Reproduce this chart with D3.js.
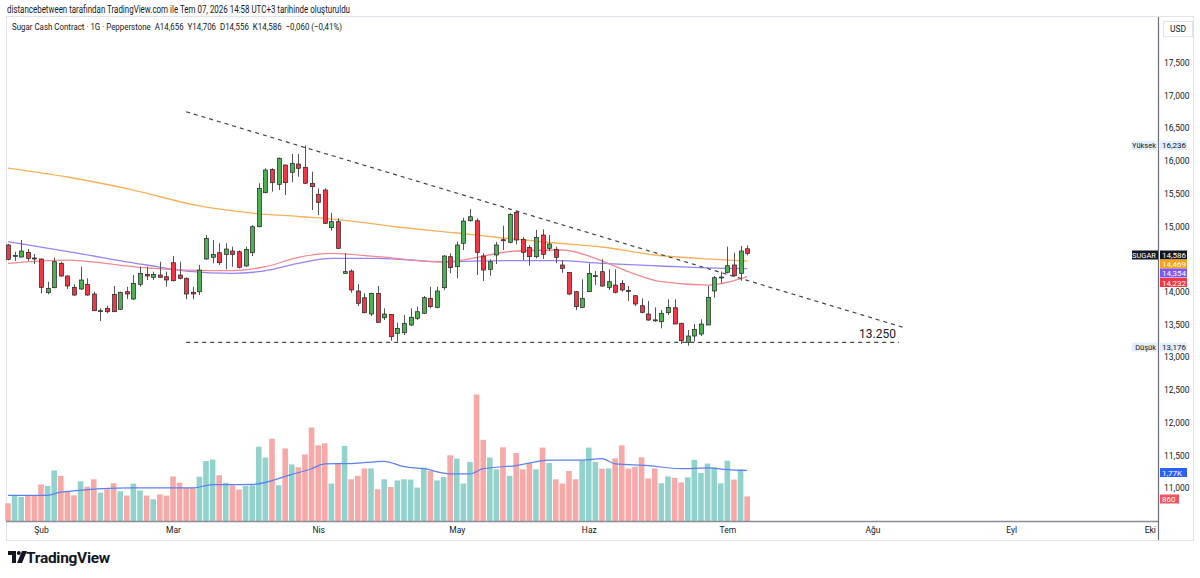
<!DOCTYPE html>
<html>
<head>
<meta charset="utf-8">
<script src="https://cdn.jsdelivr.net/npm/d3@7"></script>
<style>
  body { margin: 0; background: #fff; }
  svg text { font-family: Roboto, "Noto Sans", sans-serif; fill: #131722; }
</style>
</head>
<body>
<svg width="1200" height="578"></svg>
<script>
// daily candles, Jan 26 -> Jul 7
var opens = [14714,14545,14530,14602,14515,14500,13985,14061,14434,14240,
  14067,14041,14113,13965,13700,13746,13960,13731,14000,13888,
  14113,14266,14220,14255,14229,14443,14255,14205,13991,14000,
  14500,14526,14596,14571,14622,14611,14393,14596,14993,15513,
  15870,15641,15936,15825,15951,15901,15657,15488,15554,14978,
  15070,14281,14316,14011,13908,13659,13975,13602,13654,13364,
  13373,13491,13593,13670,13899,13761,14061,14535,14382,14740,
  15085,15085,14545,14342,14561,14795,14755,15213,14801,14678,
  14535,14866,14663,14648,14408,14296,14000,13761,14000,14235,
  14306,14067,14102,14128,14020,13939,13786,13659,13570,13541,
  13679,13755,13517,13227,13323,13353,13491,14011,14215,14296,
  14408,14281,14656];
var highs = [14730,14611,14790,14652,14576,14507,14153,14519,14458,14247,
  14113,14382,14205,14000,13746,13781,14087,14000,14076,14255,
  14382,14382,14306,14458,14306,14545,14458,14217,14076,14408,
  14866,14790,14740,14740,14688,14630,14688,15019,15657,15886,
  15886,16051,15944,16104,16104,16236,15834,15580,15580,15207,
  15122,14587,14342,14113,13975,13985,14087,13746,13659,13526,
  13644,13746,13771,13934,14076,14076,14561,14587,14764,15131,
  15264,15122,14587,14495,14764,15009,15198,15233,14840,14714,
  14943,14953,14866,14688,14484,14301,14011,14189,14434,14316,
  14495,14342,14342,14179,14087,13949,13899,13858,13761,13720,
  13884,13884,13526,13415,13506,13578,14087,14240,14306,14688,
  14596,14698,14706];
var lows = [14480,14469,14522,14469,14423,13975,13960,14052,14229,14041,
  13939,14026,13939,13705,13552,13670,13690,13720,13888,13873,
  14076,14179,14179,14209,14076,14159,14189,13884,13884,13949,
  14484,14434,14408,14342,14382,14357,14382,14545,14984,15503,
  15528,15554,15478,15672,15757,15646,15248,15172,15034,14932,
  14652,14278,13985,13781,13670,13628,13526,13567,13250,13236,
  13338,13476,13567,13659,13746,13746,14026,14281,14205,14637,
  15070,14255,14163,14244,14423,14637,14740,14724,14484,14397,
  14510,14500,14622,14434,14290,13949,13720,13758,13995,14102,
  14076,14026,13975,14000,13858,13781,13670,13557,13541,13440,
  13644,13506,13200,13176,13236,13323,13491,13908,14128,14281,
  14229,14168,14556];
var closes = [14495,14555,14622,14510,14500,14067,14052,14458,14240,14087,
  13949,14179,13949,13709,13710,13694,13694,13991,13965,14128,
  14281,14240,14266,14220,14179,14168,14205,13965,13965,14331,
  14816,14571,14443,14652,14571,14373,14648,14993,15580,15860,
  15666,16039,15666,15962,15886,15657,15605,15366,15045,15070,
  14663,14306,14026,13823,13679,13975,13532,13659,13312,13440,
  13517,13609,13694,13908,13771,14011,14545,14367,14714,15080,
  15146,14602,14331,14458,14714,14785,15183,14790,14602,14535,
  14831,14571,14729,14526,14357,13965,13771,13899,14281,14245,
  14087,14153,13991,14026,14010,13812,13685,13567,13562,13670,
  13761,13506,13251,13323,13425,13506,13914,14214,14225,14397,
  14244,14622,14586];
var volumes = [620,880,840,880,900,1280,1230,1770,1580,1030,
  900,1390,1200,1460,990,1110,1320,1040,890,1310,
  1070,890,760,930,890,1560,1340,1170,1160,1550,
  2100,2150,1600,1340,1250,1100,1230,1250,2600,2220,
  2880,1250,2540,1980,1880,2330,3270,2650,2720,1310,
  2020,2630,1460,1580,1840,1840,1110,1460,1190,1420,
  1460,1450,1170,1870,1750,1420,1540,2300,2180,1310,
  2070,4430,2840,2220,1810,2580,1580,2380,1810,2020,
  1810,2570,2030,1460,1310,1750,1460,2120,2570,2070,
  1830,1840,2190,2650,1830,1900,2230,1490,1840,1320,
  1560,1510,1350,1530,2140,1680,2010,1870,1320,2110,
  1450,1810,860];

// moving averages read at a few bars
var orangeIdx = [0,9,19,29,37,44,50,59,68,75,83,90,98,105,112];
var orangeVal = [15890,15753,15554,15310,15200,15149,15103,14989,14897,14821,14744,14683,14561,14507,14469];
var purpleIdx = [0,10,21,27,34,38,44,49,56,66,75,83,90,99,107,112];
var purpleVal = [14764,14597,14408,14316,14281,14306,14434,14510,14510,14458,14474,14474,14434,14393,14360,14354];
var redIdx = [0,9,19,27,34,39,44,49,56,66,77,84,89,94,99,106,112];
var redVal = [14434,14484,14382,14331,14321,14382,14526,14587,14535,14454,14622,14637,14510,14306,14153,14102,14232];
var volMaIdx = [0,6,8,19,28,31,37,43,46,48,52,57,60,63,67,70,72,77,82,87,90,92,97,102,106,109,112];
var volMaVal = [900,900,1010,1160,1160,1270,1280,1630,1830,2000,2010,2090,1900,1830,1650,1650,1830,1940,2130,2130,2180,2000,1940,1830,1860,1800,1770];

// drawings
var trendIdx = [27, 136];
var trendVal = [16750, 13445];
var supportIdx = [27, 135];
var supportVal = 13250;

var priceTicks = [11000,11500,12000,12500,13000,13500,14000,15000,15500,16000,16500,17000,17500];
var tickIdx = [5, 25, 47, 68, 88, 109, 131, 152, 173];
var tickLabels = ['Şub', 'Mar', 'Nis', 'May', 'Haz', 'Tem', 'Ağu', 'Eyl', 'Eki'];

var upColor = '#4caf50', downColor = '#f23645';

var svg = d3.select('svg');
var plotTop = 17, plotBottom = 521, plotRight = 1158;

var x = d3.scaleLinear().domain([0, 174.1]).range([8, 1157]);
var y = d3.scaleLinear().domain([10496, 18198]).range([plotBottom, plotTop]);
var yVol = d3.scaleLinear().domain([0, 17640]).range([plotBottom, plotTop]);

var candles = opens.map(function(o, i) {
  return {i: i, o: o, h: highs[i], l: lows[i], c: closes[i], v: volumes[i]};
});

// frame
svg.append('rect')
  .attr('x', 6.5).attr('y', 16.5)
  .attr('width', 1187).attr('height', 524)
  .attr('fill', 'none').attr('stroke', '#e0e3eb');

svg.append('text')
  .attr('x', 7).attr('y', 13)
  .style('font-size', '10px')
  .attr('textLength', 343)
  .attr('lengthAdjust', 'spacingAndGlyphs')
  .text('distancebetween tarafından TradingView.com ile Tem 07, 2026 14:58 UTC+3 tarihinde oluşturuldu');

svg.append('text')
  .attr('x', 12).attr('y', 30)
  .style('font-size', '9.5px')
  .attr('xml:space', 'preserve')
  .attr('textLength', 330)
  .attr('lengthAdjust', 'spacingAndGlyphs')
  .text('Sugar Cash Contract · 1G · Pepperstone  A14,656  Y14,706  D14,556  K14,586  −0,060 (−0,41%)');

var chartG = svg.append('g');

// volume
chartG.selectAll('rect.vol')
  .data(candles)
  .enter()
  .append('rect')
  .attr('class', 'vol')
  .attr('x', function(d) { return x(d.i) - 2.8; })
  .attr('width', 5.6)
  .attr('y', function(d) { return yVol(d.v); })
  .attr('height', function(d) { return plotBottom - yVol(d.v); })
  .attr('fill', function(d) { return d.c >= d.o ? '#92d2cc' : '#f7a9a8'; });

var volLine = d3.line()
  .x(function(d) { return x(d[0]); })
  .y(function(d) { return yVol(d[1]); })
  .curve(d3.curveMonotoneX);

chartG.append('path')
  .datum(d3.zip(volMaIdx, volMaVal))
  .attr('d', volLine)
  .attr('fill', 'none')
  .attr('stroke', '#5c7ff0')
  .attr('stroke-width', 1.2);

// moving averages
var maLine = d3.line()
  .x(function(d) { return x(d[0]); })
  .y(function(d) { return y(d[1]); })
  .curve(d3.curveMonotoneX);

[[orangeIdx, orangeVal, '#f8b15a'], [purpleIdx, purpleVal, '#9a82f5'], [redIdx, redVal, '#f08a90']]
  .forEach(function(s) {
    chartG.append('path')
      .datum(d3.zip(s[0], s[1]))
      .attr('d', maLine)
      .attr('fill', 'none')
      .attr('stroke', s[2])
      .attr('stroke-width', 1.3);
  });

// candles
chartG.selectAll('line.wick')
  .data(candles)
  .enter()
  .append('line')
  .attr('class', 'wick')
  .attr('x1', function(d) { return Math.round(x(d.i)) + 0.5; })
  .attr('x2', function(d) { return Math.round(x(d.i)) + 0.5; })
  .attr('y1', function(d) { return y(d.h); })
  .attr('y2', function(d) { return y(d.l); })
  .attr('stroke', '#555')
  .attr('stroke-width', 1);

chartG.selectAll('rect.body')
  .data(candles)
  .enter()
  .append('rect')
  .attr('class', 'body')
  .attr('x', function(d) { return Math.round(x(d.i)) - 1.5; })
  .attr('width', 4)
  .attr('y', function(d) { return y(Math.max(d.o, d.c)); })
  .attr('height', function(d) { return Math.max(1, Math.abs(y(d.o) - y(d.c))); })
  .attr('fill', function(d) { return d.c >= d.o ? upColor : downColor; })
  .attr('stroke', '#222')
  .attr('stroke-width', 0.7);

// trend line and support
chartG.append('line')
  .attr('x1', x(trendIdx[0])).attr('y1', y(trendVal[0]))
  .attr('x2', x(trendIdx[1])).attr('y2', y(trendVal[1]))
  .attr('stroke', '#444').attr('stroke-width', 1.2)
  .attr('stroke-dasharray', '4,4');

chartG.append('line')
  .attr('x1', x(supportIdx[0])).attr('y1', y(supportVal) + 1.5)
  .attr('x2', x(supportIdx[1])).attr('y2', y(supportVal) + 1.5)
  .attr('stroke', '#444').attr('stroke-width', 1.2)
  .attr('stroke-dasharray', '4,4');

chartG.append('text')
  .attr('x', x(supportIdx[1]) - 3)
  .attr('y', y(supportVal) - 3)
  .attr('text-anchor', 'end')
  .style('font-size', '12px')
  .text('13.250');

// axes
svg.append('line')
  .attr('x1', 6).attr('x2', plotRight)
  .attr('y1', plotBottom + 0.5).attr('y2', plotBottom + 0.5)
  .attr('stroke', '#8a8d96').attr('stroke-width', 1.5);
svg.append('line')
  .attr('x1', plotRight + 0.5).attr('x2', plotRight + 0.5)
  .attr('y1', plotTop).attr('y2', 540)
  .attr('stroke', '#6a6d78').attr('stroke-width', 1.2);

var yAxis = d3.axisRight(y)
  .tickValues(priceTicks)
  .tickSize(0)
  .tickPadding(6)
  .tickFormat(d3.format(','));

var yAxisG = svg.append('g')
  .attr('class', 'y-axis')
  .attr('transform', 'translate(' + plotRight + ',0)')
  .call(yAxis);
yAxisG.select('.domain').remove();
yAxisG.selectAll('text').style('font-size', '8.5px').attr('fill', '#131722');

var xAxis = d3.axisBottom(x)
  .tickValues(tickIdx)
  .tickSize(0)
  .tickPadding(6)
  .tickFormat(function(d, i) { return tickLabels[i]; });

var xAxisG = svg.append('g')
  .attr('class', 'x-axis')
  .attr('transform', 'translate(0,' + plotBottom + ')')
  .call(xAxis);
xAxisG.select('.domain').remove();
xAxisG.selectAll('text').style('font-size', '8.5px').attr('fill', '#131722');

// USD box
svg.append('rect')
  .attr('x', 1163.5).attr('y', 21.5).attr('width', 29).attr('height', 15)
  .attr('fill', '#fff').attr('stroke', '#e0e3eb');
svg.append('text')
  .attr('x', 1178).attr('y', 32)
  .attr('text-anchor', 'middle')
  .style('font-size', '8.5px')
  .text('USD');

// price labels on the axis
function axisLabel(cy, txt, bg, fg, w) {
  svg.append('rect')
    .attr('x', plotRight + 2).attr('y', cy - 4.5)
    .attr('width', w || 27).attr('height', 9)
    .attr('fill', bg);
  svg.append('text')
    .attr('x', plotRight + 4).attr('y', cy + 3)
    .style('font-size', '8px')
    .style('fill', fg)
    .text(txt);
}
function sideTag(cy, txt, bg, fg) {
  svg.append('rect')
    .attr('x', plotRight - 26).attr('y', cy - 4.5)
    .attr('width', 26).attr('height', 9)
    .attr('fill', bg);
  svg.append('text')
    .attr('x', plotRight - 2).attr('y', cy + 3)
    .attr('text-anchor', 'end')
    .style('font-size', '7.5px')
    .style('fill', fg)
    .text(txt);
}

sideTag(y(16236), 'Yüksek', '#e3eefc', '#131722');
axisLabel(y(16236), '16,236', '#e3eefc', '#131722');
sideTag(y(13176) + 1.5, 'Düşük', '#e3eefc', '#131722');
axisLabel(y(13176) + 1.5, '13,176', '#e3eefc', '#131722');

sideTag(255, 'SUGAR', '#131722', '#fff');
axisLabel(255, '14,586', '#131722', '#fff');
axisLabel(264, '14,469', '#f7a21b', '#fff');
axisLabel(273, '14,354', '#7e57f2', '#fff');
axisLabel(282.5, '14,232', '#f23645', '#fff');
axisLabel(472.5, '1,77K', '#2962ff', '#fff');
axisLabel(499, '860', '#f7525f', '#fff', 19);

// logo
var logo = svg.append('g').attr('transform', 'translate(8,551)');
logo.append('path').attr('d', 'M0 0H8V12H4V4H0Z').attr('fill', '#131722');
logo.append('circle').attr('cx', 10.8).attr('cy', 2).attr('r', 2).attr('fill', '#131722');
logo.append('path').attr('d', 'M14 0H19L14 12H9Z').attr('fill', '#131722');
svg.append('text')
  .attr('x', 26).attr('y', 563)
  .style('font-size', '15.5px')
  .style('font-weight', 'bold')
  .style('letter-spacing', '-0.3px')
  .text('TradingView');
</script>
</body>
</html>
